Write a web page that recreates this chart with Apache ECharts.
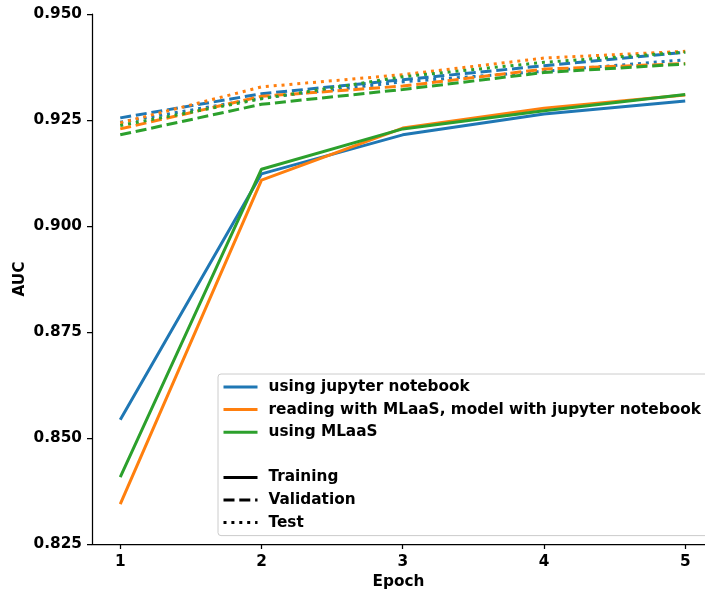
<!DOCTYPE html>
<html>
<head>
<meta charset="utf-8">
<script src="https://cdn.jsdelivr.net/npm/echarts@6/dist/echarts.min.js"></script>
<style>html,body{margin:0;padding:0;background:#fff}#c{width:705px;height:593px}</style>
</head>
<body>
<div id="c"></div>
<script>
const epochs = [1, 2, 3, 4, 5];
const yTicks = [0.825, 0.850, 0.875, 0.900, 0.925, 0.950];

const jupyterTrain = [0.8543, 0.9123, 0.9215, 0.9264, 0.9295];
const jupyterVal   = [0.9255, 0.9312, 0.9345, 0.9378, 0.9410];
const jupyterTest  = [0.9245, 0.9302, 0.9340, 0.9365, 0.9392];

const mixedTrain = [0.8344, 0.9108, 0.9231, 0.9278, 0.9309];
const mixedVal   = [0.9229, 0.9306, 0.9330, 0.9370, 0.9383];
const mixedTest  = [0.9243, 0.9328, 0.9357, 0.9396, 0.9412];

const mlaasTrain = [0.8408, 0.9134, 0.9229, 0.9272, 0.9310];
const mlaasVal   = [0.9215, 0.9287, 0.9322, 0.9362, 0.9382];
const mlaasTest  = [0.9237, 0.9300, 0.9352, 0.9386, 0.9410];

const methodNames = ['using jupyter notebook', 'reading with MLaaS, model with jupyter notebook', 'using MLaaS'];
const splitNames = ['Training', 'Validation', 'Test'];
const colors = ['#1f77b4', '#ff7f0e', '#2ca02c'];
const dashes = ['solid', [11, 4.8], [3, 4.9]];
const seriesData = [
  [jupyterTrain, jupyterVal, jupyterTest],
  [mixedTrain, mixedVal, mixedTest],
  [mlaasTrain, mlaasVal, mlaasTest]
];

const FONT = 'DejaVu Sans';
const FS = 15.3;
const LW = 3;
const series = [];
seriesData.forEach((group, gi) => {
  group.forEach((vals, si) => {
    series.push({
      type: 'line',
      name: methodNames[gi] + ' - ' + splitNames[si],
      data: epochs.map((e, i) => [e, vals[i]]),
      symbol: 'none',
      showSymbol: false,
      silent: true,
      lineStyle: { color: colors[gi], width: LW, type: dashes[si], cap: 'butt' },
      itemStyle: { color: colors[gi] },
      z: 2
    });
  });
});
// legend-only series
const legendNames = [];
methodNames.forEach((n, gi) => {
  legendNames.push(n);
  series.push({ type: 'line', name: n, data: [], symbol: 'none', showSymbol: false,
    lineStyle: { color: colors[gi], width: LW, type: 'solid' }, itemStyle: { color: colors[gi] } });
});
legendNames.push('\u00a0');
series.push({ type: 'line', name: '\u00a0', data: [], symbol: 'none', showSymbol: false,
  lineStyle: { color: 'rgba(0,0,0,0)', width: LW, opacity: 0 }, itemStyle: { color: 'rgba(0,0,0,0)', opacity: 0 } });
splitNames.forEach((n, si) => {
  legendNames.push(n);
  series.push({ type: 'line', name: n, data: [], symbol: 'none', showSymbol: false,
    lineStyle: { color: '#000', width: LW, type: dashes[si] }, itemStyle: { color: '#000' } });
});

const chart = echarts.init(document.getElementById('c'), null, { renderer: 'canvas' });
chart.setOption({
  animation: false,
  backgroundColor: '#fff',
  grid: { left: 92, right: 0, top: 14, bottom: 49, containLabel: false, outerBoundsMode: 'none' },
  xAxis: {
    type: 'value',
    min: 0.8, max: 5.14,
    name: 'Epoch', nameLocation: 'middle', nameGap: 31, nameMoveOverlap: false,
    nameTextStyle: { fontFamily: FONT, fontWeight: 'bold', fontSize: FS, color: '#000', verticalAlign: 'top' },
    axisLine: { show: true, onZero: false, lineStyle: { color: '#000', width: 1.25 } },
    axisTick: { show: true, length: 5, lineStyle: { color: '#000', width: 1.25 }, customValues: epochs },
    axisLabel: { customValues: epochs, margin: 11, fontFamily: FONT, fontWeight: 'bold', fontSize: FS, color: '#000' },
    splitLine: { show: false }
  },
  yAxis: {
    type: 'value',
    min: 0.825, max: 0.950, interval: 0.025,
    name: 'AUC', nameLocation: 'middle', nameGap: 64, nameRotate: 90, nameMoveOverlap: false,
    nameTextStyle: { fontFamily: FONT, fontWeight: 'bold', fontSize: FS, color: '#000' },
    axisLine: { show: true, lineStyle: { color: '#000', width: 1.25 } },
    axisTick: { show: true, length: 5, lineStyle: { color: '#000', width: 1.25 }, customValues: yTicks },
    axisLabel: { customValues: yTicks, margin: 10, fontFamily: FONT, fontWeight: 'bold', fontSize: FS, color: '#000',
      formatter: v => Number(v).toFixed(3) },
    splitLine: { show: false }
  },
  legend: {
    show: true,
    orient: 'vertical',
    left: 218, top: 374,
    data: legendNames,
    itemWidth: 34, itemHeight: 16, itemGap: 6.6,
    padding: [5, 24, 5, 4],
    backgroundColor: 'rgba(255,255,255,0.8)',
    borderColor: '#cccccc', borderWidth: 1, borderRadius: 3,
    selectedMode: false,
    itemStyle: { opacity: 0, borderWidth: 0 },
    lineStyle: { width: 3 },
    textStyle: { fontFamily: FONT, fontWeight: 'bold', fontSize: FS, color: '#000', lineHeight: 16, padding: [0, 0, 0, 6] }
  },
  series: series
});
</script>
</body>
</html>
